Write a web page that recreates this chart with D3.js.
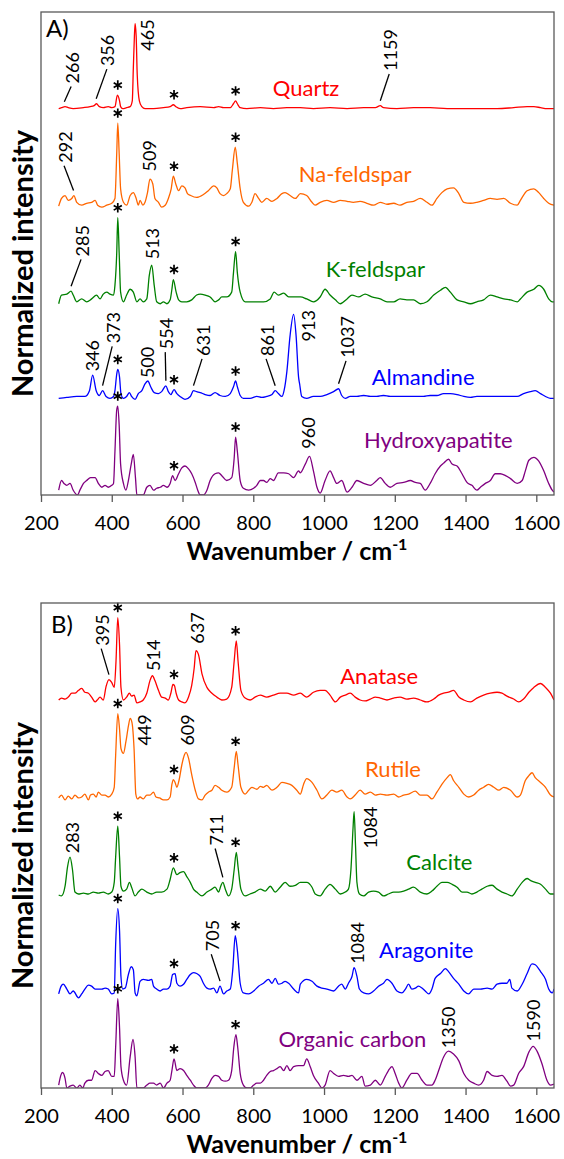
<!DOCTYPE html>
<html>
<head>
<meta charset="utf-8">
<script src="https://cdn.jsdelivr.net/npm/d3@7"></script>
<style>
  body { margin: 0; background: #fff; }
  text { font-family: Lato, "Open Sans", sans-serif; }
</style>
</head>
<body>
<svg id="chart" width="564" height="1159"></svg>
<script>
// ---------- data ----------
var tickValues = [200, 400, 600, 800, 1000, 1200, 1400, 1600];
var colors = ["#ff0000", "#ff6600", "#008000", "#0000ff", "#800080"];
var offsets = [400, 300, 200, 100, 0];          // stacking offset of each trace
var starPeaks = [417, 576, 750];                 // substrate bands marked with *

var namesA = ["Quartz", "Na-feldspar", "K-feldspar", "Almandine", "Hydroxyapatite"];
var namesB = ["Anatase", "Rutile", "Calcite", "Aragonite", "Organic carbon"];

// [wavenumber, intensity above own offset]
var quartz = [[250,0],[258,1],[268,2],[277,1],[291,0],[320,1],[339,2],[350,3],[357,5],[365,2],[376,1],[390,2],[400,1],[409,2],[416,14],[422,8],[425,2],[431,0],[442,1],[452,2],[458,8],[461,42],[464,75],[466,88],[469,75],[472,35],[478,8],[485,2],[494,0],[518,0],[546,1],[565,2],[574,4],[581,2],[593,0],[612,1],[650,2],[688,1],[702,2],[716,1],[735,1],[744,5],[750,8],[755,5],[763,1],[782,0],[820,1],[857,0],[895,1],[933,1],[970,0],[1017,1],[1065,0],[1112,1],[1145,1],[1159,3],[1168,1],[1206,0],[1253,1],[1300,1],[1348,0],[1395,0],[1442,0],[1489,0],[1536,1],[1574,2],[1593,2],[1612,1],[1630,0],[1650,0]];

var naFeldspar = [[250,-1],[258,7],[268,10],[277,5],[287,7],[293,10],[301,3],[315,0],[329,2],[343,3],[353,5],[360,0],[372,-2],[386,0],[400,2],[409,7],[414,53],[417,85],[421,53],[425,17],[433,3],[442,0],[452,10],[461,13],[469,7],[475,0],[480,5],[488,0],[494,3],[501,13],[508,27],[516,22],[522,7],[532,3],[541,-2],[551,0],[560,7],[568,17],[574,30],[581,22],[589,15],[598,20],[607,18],[614,12],[623,10],[640,8],[659,11],[673,15],[688,20],[697,18],[706,12],[716,10],[725,12],[735,17],[741,37],[749,60],[755,43],[763,17],[772,3],[787,-1],[796,3],[805,12],[815,7],[824,3],[838,7],[853,4],[867,7],[881,12],[890,13],[904,10],[919,7],[933,12],[951,10],[966,3],[975,0],[989,3],[1008,5],[1027,3],[1046,5],[1065,4],[1083,3],[1102,4],[1121,2],[1140,0],[1159,3],[1178,1],[1197,2],[1215,0],[1234,3],[1253,4],[1272,7],[1291,3],[1305,0],[1319,7],[1333,13],[1348,17],[1366,18],[1381,12],[1395,3],[1414,2],[1432,3],[1451,5],[1470,7],[1489,6],[1508,7],[1527,2],[1546,0],[1555,5],[1574,15],[1593,17],[1607,13],[1621,7],[1635,2],[1650,0]];

var kFeldspar = [[250,-2],[258,7],[273,8],[285,11],[291,7],[301,0],[315,3],[329,0],[343,3],[357,7],[367,3],[376,8],[386,10],[395,8],[405,7],[409,17],[414,50],[417,87],[421,50],[425,10],[433,0],[442,7],[452,13],[461,10],[471,0],[480,3],[489,0],[499,3],[506,27],[513,38],[520,17],[527,0],[537,-2],[546,0],[556,-2],[565,2],[570,13],[574,23],[582,10],[589,2],[598,0],[612,0],[626,2],[640,7],[650,8],[664,7],[678,5],[692,0],[702,2],[711,5],[725,5],[739,10],[744,30],[750,52],[755,30],[763,10],[777,0],[791,0],[810,0],[829,0],[848,3],[859,10],[871,7],[886,9],[900,5],[914,5],[933,5],[951,3],[970,0],[989,5],[1003,13],[1017,7],[1032,2],[1046,-2],[1065,3],[1079,7],[1098,5],[1116,8],[1135,5],[1159,3],[1178,0],[1197,0],[1215,3],[1234,2],[1253,2],[1272,-2],[1291,0],[1310,7],[1329,12],[1343,15],[1357,10],[1376,2],[1395,0],[1414,-2],[1432,0],[1451,2],[1470,7],[1489,5],[1508,3],[1527,2],[1546,0],[1555,3],[1574,10],[1593,13],[1607,17],[1621,13],[1635,3],[1645,0],[1650,0]];

var almandine = [[250,0],[273,1],[301,2],[324,2],[337,8],[346,24],[356,8],[365,3],[374,8],[384,2],[395,0],[405,2],[409,8],[414,25],[417,30],[422,22],[426,5],[433,0],[442,2],[450,6],[456,2],[466,-1],[475,5],[485,8],[494,15],[502,18],[510,12],[520,6],[532,5],[541,7],[553,13],[560,7],[567,4],[576,9],[584,5],[593,2],[607,-1],[622,2],[631,8],[640,7],[650,6],[664,4],[678,3],[692,6],[706,3],[721,2],[735,5],[744,12],[750,18],[755,12],[763,3],[772,0],[791,0],[810,2],[824,1],[838,2],[853,4],[862,8],[871,5],[881,2],[887,8],[895,28],[904,65],[914,87],[921,65],[928,22],[931,15],[937,2],[951,0],[970,2],[989,2],[1008,4],[1027,7],[1041,10],[1050,3],[1060,0],[1074,2],[1093,2],[1112,3],[1131,2],[1149,2],[1168,3],[1187,2],[1206,2],[1225,2],[1244,2],[1263,2],[1281,2],[1300,3],[1319,3],[1338,5],[1357,5],[1376,4],[1395,2],[1414,1],[1432,2],[1451,2],[1470,2],[1489,2],[1508,2],[1527,2],[1546,2],[1564,5],[1583,7],[1597,8],[1612,5],[1626,2],[1640,0],[1650,0]];

var hydroxyapatite = [[250,5],[258,15],[265,12],[273,10],[282,12],[291,5],[303,0],[310,5],[320,12],[329,15],[340,18],[353,18],[362,12],[372,8],[381,10],[390,8],[400,10],[405,12],[409,45],[414,88],[417,92],[421,72],[425,32],[433,12],[440,5],[447,15],[455,32],[461,42],[467,18],[471,0],[480,0],[489,0],[499,8],[508,10],[518,5],[527,7],[537,8],[546,10],[556,8],[565,12],[572,20],[579,15],[589,22],[598,28],[607,30],[617,27],[626,22],[636,13],[643,5],[650,0],[659,0],[669,5],[678,15],[692,22],[702,23],[711,20],[725,15],[739,18],[746,38],[750,60],[755,45],[763,15],[772,7],[787,5],[801,7],[810,10],[820,15],[829,15],[838,13],[848,17],[857,15],[871,23],[886,23],[900,22],[914,18],[928,25],[933,23],[947,32],[959,40],[970,25],[980,8],[989,2],[1003,15],[1017,25],[1027,18],[1036,12],[1050,15],[1065,3],[1079,8],[1093,15],[1112,12],[1131,10],[1149,15],[1159,18],[1173,12],[1187,8],[1206,12],[1225,13],[1244,15],[1258,13],[1272,12],[1286,5],[1300,12],[1314,22],[1329,30],[1338,33],[1352,37],[1362,32],[1376,30],[1390,22],[1404,13],[1418,10],[1432,5],[1442,8],[1456,12],[1470,15],[1484,22],[1498,22],[1513,20],[1527,17],[1546,12],[1560,15],[1569,25],[1579,36],[1593,39],[1607,35],[1621,25],[1635,12],[1645,5],[1650,3]];

var anatase = [[250,0],[258,2],[268,1],[277,3],[287,7],[296,7],[306,10],[315,12],[324,8],[334,7],[343,3],[353,-2],[359,0],[367,3],[376,0],[384,14],[392,21],[400,18],[407,13],[412,40],[417,85],[422,57],[426,13],[433,0],[442,3],[450,7],[456,4],[463,5],[471,-3],[480,-2],[489,0],[499,7],[508,20],[515,25],[522,20],[532,10],[541,3],[551,2],[560,0],[567,7],[573,16],[577,15],[582,7],[589,0],[598,-2],[607,-3],[617,3],[626,15],[633,33],[638,51],[645,47],[655,27],[669,13],[683,7],[697,3],[711,0],[725,1],[739,13],[746,40],[752,61],[757,40],[765,10],[777,2],[791,0],[805,3],[820,5],[838,3],[857,5],[876,7],[895,7],[914,5],[933,7],[951,3],[970,8],[989,10],[1003,10],[1017,5],[1032,-2],[1046,3],[1060,5],[1074,7],[1088,3],[1102,0],[1116,-1],[1131,1],[1145,3],[1159,2],[1178,0],[1197,2],[1215,3],[1234,1],[1253,2],[1272,0],[1291,-2],[1310,1],[1324,5],[1338,7],[1352,8],[1366,10],[1381,3],[1395,0],[1414,-2],[1432,2],[1451,5],[1470,7],[1489,8],[1503,7],[1517,4],[1536,1],[1550,-2],[1564,1],[1579,8],[1593,13],[1612,17],[1626,13],[1640,7],[1650,0]];

var rutile = [[250,-1],[258,2],[268,-3],[277,1],[287,-2],[296,2],[306,-1],[315,0],[324,3],[334,-3],[340,2],[348,3],[356,0],[362,5],[372,2],[381,2],[390,0],[400,3],[407,10],[411,43],[417,86],[422,70],[426,50],[433,45],[440,57],[447,73],[452,81],[457,77],[463,50],[468,3],[473,-2],[480,0],[489,-2],[499,2],[508,2],[518,5],[525,0],[535,-1],[546,-3],[556,-3],[565,0],[570,13],[574,18],[579,15],[584,10],[590,17],[598,33],[605,43],[610,46],[617,40],[626,23],[636,7],[645,-2],[655,-3],[664,2],[673,5],[683,7],[692,12],[702,10],[711,7],[725,5],[739,10],[746,30],[752,47],[757,33],[765,10],[777,3],[787,7],[796,10],[810,8],[820,11],[829,10],[838,12],[853,7],[867,10],[881,15],[895,14],[909,12],[923,7],[933,3],[942,13],[951,19],[966,15],[980,7],[994,-2],[1008,2],[1022,7],[1036,5],[1050,7],[1065,0],[1074,-2],[1088,2],[1102,7],[1116,3],[1131,5],[1145,2],[1159,3],[1178,2],[1197,3],[1211,0],[1225,2],[1239,3],[1258,6],[1272,2],[1291,2],[1305,-2],[1319,5],[1333,13],[1348,20],[1357,23],[1366,17],[1381,10],[1395,3],[1409,0],[1423,2],[1437,7],[1451,10],[1465,13],[1480,10],[1494,7],[1508,10],[1527,7],[1546,0],[1555,2],[1569,17],[1579,22],[1588,25],[1597,20],[1612,15],[1626,10],[1640,2],[1650,0]];

var calcite = [[250,-1],[258,-2],[268,8],[275,28],[282,38],[289,25],[296,2],[306,0],[320,1],[334,0],[348,2],[362,1],[376,2],[390,0],[400,2],[407,12],[411,38],[417,70],[422,38],[426,8],[433,3],[442,5],[450,12],[456,7],[466,-2],[475,2],[485,5],[499,2],[513,0],[527,2],[541,2],[556,5],[565,15],[574,27],[584,20],[593,22],[603,23],[612,18],[622,12],[631,5],[640,2],[655,-2],[669,2],[683,5],[692,7],[702,2],[708,8],[714,12],[721,5],[730,-2],[739,5],[746,25],[752,43],[757,28],[765,5],[777,-2],[791,0],[805,2],[820,5],[834,3],[848,8],[862,2],[876,7],[890,12],[904,8],[919,9],[933,12],[951,12],[966,7],[975,0],[989,-2],[1003,5],[1017,10],[1032,5],[1046,0],[1060,2],[1069,5],[1076,25],[1082,68],[1085,85],[1089,50],[1093,12],[1100,0],[1112,-2],[1126,2],[1140,3],[1154,2],[1168,-2],[1182,0],[1197,2],[1211,2],[1225,3],[1239,5],[1253,7],[1272,2],[1291,0],[1305,3],[1319,8],[1333,12],[1348,12],[1362,10],[1376,7],[1390,2],[1404,2],[1418,0],[1432,2],[1446,5],[1461,8],[1475,9],[1489,5],[1503,2],[1517,0],[1531,-2],[1546,5],[1560,12],[1574,16],[1583,14],[1597,12],[1612,10],[1626,5],[1640,0],[1650,0]];

var aragonite = [[250,-3],[257,5],[263,7],[273,2],[282,-3],[291,0],[306,-7],[315,-3],[324,2],[334,6],[343,5],[353,2],[362,2],[372,2],[381,3],[390,2],[400,-3],[407,-2],[411,48],[417,85],[422,62],[426,15],[431,2],[438,3],[447,17],[455,25],[461,22],[466,-2],[471,-5],[480,10],[489,12],[504,11],[513,12],[518,5],[527,2],[537,0],[546,2],[556,2],[565,5],[572,17],[579,18],[584,8],[593,5],[603,7],[612,12],[622,17],[631,19],[640,18],[650,15],[659,8],[669,3],[678,2],[688,3],[697,-2],[706,5],[716,-3],[725,0],[735,2],[742,22],[749,57],[755,42],[763,8],[772,-2],[787,-3],[801,0],[815,5],[829,8],[843,12],[853,8],[862,13],[871,7],[881,8],[890,10],[900,8],[914,2],[928,-2],[933,7],[951,12],[966,10],[980,5],[994,3],[1008,2],[1027,0],[1041,5],[1050,7],[1060,2],[1069,8],[1079,15],[1085,24],[1093,15],[1100,2],[1112,-2],[1126,-3],[1140,0],[1154,5],[1168,8],[1178,12],[1192,8],[1206,0],[1220,-2],[1230,2],[1239,7],[1248,2],[1258,3],[1267,5],[1277,3],[1286,0],[1296,-3],[1305,2],[1314,13],[1329,18],[1343,23],[1352,20],[1366,13],[1381,7],[1395,0],[1409,-3],[1423,2],[1442,2],[1461,3],[1475,2],[1489,7],[1503,8],[1517,8],[1525,12],[1531,3],[1546,0],[1560,7],[1574,18],[1588,28],[1597,27],[1612,20],[1626,12],[1635,2],[1645,-2],[1650,2]];

var organicCarbon = [[250,3],[256,13],[261,16],[268,10],[273,0],[282,2],[291,3],[301,0],[310,3],[318,0],[324,5],[334,8],[343,8],[353,18],[362,15],[372,13],[381,17],[390,18],[400,12],[407,12],[411,42],[417,92],[422,62],[426,22],[433,8],[442,3],[452,32],[460,50],[466,32],[471,0],[480,0],[489,0],[499,3],[508,5],[518,5],[527,3],[537,5],[546,0],[556,5],[565,8],[570,18],[576,30],[584,18],[593,20],[603,18],[612,13],[622,8],[631,3],[640,0],[650,0],[664,0],[673,3],[683,10],[692,13],[702,12],[711,8],[721,7],[730,8],[739,18],[745,42],[751,55],[756,42],[763,15],[772,3],[782,0],[791,0],[801,3],[810,5],[820,5],[829,8],[838,13],[848,17],[857,18],[867,20],[876,22],[886,18],[895,23],[904,18],[914,22],[928,23],[942,23],[951,30],[961,22],[970,13],[984,5],[994,0],[1003,3],[1017,18],[1027,15],[1041,12],[1055,13],[1069,12],[1079,13],[1093,8],[1107,12],[1116,2],[1131,3],[1145,8],[1159,3],[1173,12],[1182,18],[1192,22],[1201,15],[1211,5],[1220,0],[1234,8],[1248,15],[1263,15],[1277,8],[1291,3],[1305,3],[1314,8],[1324,18],[1338,32],[1352,38],[1366,35],[1381,28],[1395,15],[1409,8],[1423,5],[1437,3],[1451,8],[1461,17],[1475,13],[1489,12],[1503,13],[1517,7],[1527,2],[1536,3],[1550,15],[1564,22],[1579,37],[1591,43],[1602,38],[1616,25],[1630,8],[1640,3],[1650,4]];

var seriesA = [quartz, naFeldspar, kFeldspar, almandine, hydroxyapatite];
var seriesB = [anatase, rutile, calcite, aragonite, organicCarbon];

// band labels: [trace, band position, text, label wavenumber, label level, leader line]
var bandLabelsA = [
  [0, 266, "266", 288, 426, true], [0, 356, "356", 389, 444, true], [0, 465, "465", 500, 460, false],
  [0, 1159, "1159", 1187, 439, true],
  [1, 292, "292", 268, 344, true], [1, 509, "509", 508, 335, false],
  [2, 285, "285", 316, 247, true], [2, 513, "513", 514, 244, false],
  [3, 346, "346", 347, 128, false], [3, 374, "373", 404, 157, true], [3, 500, "500", 500, 121, false],
  [3, 553, "554", 554, 151, true], [3, 631, "631", 658, 144, true], [3, 862, "861", 839, 144, true],
  [3, 913, "913", 955, 159, false], [3, 1041, "1037", 1065, 142, true],
  [4, 960, "960", 955, 48, false]
];
var bandLabelsB = [
  [0, 392, "395", 373, 456, true], [0, 514, "514", 517, 430, false], [0, 637, "637", 641, 458, false],
  [1, 449, "449", 494, 353, false], [1, 609, "609", 613, 353, false],
  [2, 283, "283", 288, 242, false], [2, 714, "711", 695, 250, true], [2, 1084, "1084", 1130, 247, false],
  [3, 706, "705", 684, 141, true], [3, 1084, "1084", 1094, 128, false],
  [4, 1350, "1350", 1351, 41, false], [4, 1590, "1590", 1591, 48, false]
];
// trace name anchors [wavenumber, level]
var nameSpotsA = [[949, 413], [1088, 324], [1145, 226], [1280, 114], [1323, 49]];
var nameSpotsB = [[1156, 417], [1195, 321], [1326, 225], [1289, 134], [1080, 42]];

// ---------- drawing ----------
var svg = d3.select("#chart");
var x = d3.scaleLinear().domain([200, 1650]).range([41, 554]);

function peakValue(s, wn, win) {
  var near = s.filter(function(p) { return Math.abs(p[0] - wn) <= win; });
  if (near.length) return d3.max(near, function(p) { return p[1]; });
  var i = d3.bisector(function(p) { return p[0]; }).left(s, wn);
  var a = s[Math.max(0, i - 1)], b = s[Math.min(s.length - 1, i)];
  if (a[0] === b[0]) return a[1];
  return a[1] + (b[1] - a[1]) * (wn - a[0]) / (b[0] - a[0]);
}

function drawPanel(top, bottom, tag, tagX, tagY, series, names, nameSpots, bandLabels) {
  var y = d3.scaleLinear().domain([0, 500]).range([bottom, top]);
  var g = svg.append("g");
  var clipId = "clip" + tag.charAt(0);
  svg.append("clipPath").attr("id", clipId).append("rect")
    .attr("x", 41).attr("y", top).attr("width", 513).attr("height", bottom - top);

  var line = d3.line()
    .x(function(d) { return x(d[0]); })
    .curve(d3.curveMonotoneX);

  series.forEach(function(s, i) {
    line.y(function(d) { return y(offsets[i] + d[1]); });
    g.append("path")
      .datum(s)
      .attr("clip-path", "url(#" + clipId + ")")
      .attr("fill", "none")
      .attr("stroke", colors[i])
      .attr("stroke-width", 1.3)
      .attr("stroke-linejoin", "round")
      .attr("d", line);

    g.append("text")
      .attr("x", x(nameSpots[i][0]))
      .attr("y", y(nameSpots[i][1]))
      .attr("text-anchor", "middle")
      .attr("font-size", 22)
      .attr("fill", colors[i])
      .text(names[i]);

    starPeaks.forEach(function(wn) {
      var v = peakValue(s, wn, 6);
      g.append("path")
        .attr("transform", "translate(" + x(wn) + "," + (y(offsets[i] + v) - 10) + ")")
        .attr("d", d3.symbol(d3.symbolAsterisk, 62)())
        .attr("fill", "none")
        .attr("stroke", "#000")
        .attr("stroke-width", 1.7);
    });
  });

  bandLabels.forEach(function(b) {
    var lx = x(b[3]), ly = y(b[4]);
    if (b[5]) {
      var v = peakValue(series[b[0]], b[1], 3);
      g.append("line")
        .attr("x1", x(b[1])).attr("y1", y(offsets[b[0]] + v) - 5)
        .attr("x2", lx - 1).attr("y2", ly + 3)
        .attr("stroke", "#000").attr("stroke-width", 1.3);
    }
    g.append("text")
      .attr("transform", "translate(" + lx + "," + ly + ") rotate(-90)")
      .attr("dy", "0.36em")
      .attr("font-size", 18)
      .attr("fill", "#000")
      .text(b[2]);
  });

  // frame and axis
  g.append("rect")
    .attr("x", 41).attr("y", top).attr("width", 513).attr("height", bottom - top)
    .attr("fill", "none").attr("stroke", "#595959").attr("stroke-width", 1.3);

  var ax = g.append("g")
    .attr("transform", "translate(0," + bottom + ")")
    .call(d3.axisBottom(x).tickValues(tickValues).tickFormat(d3.format("d"))
      .tickSize(7).tickSizeOuter(0).tickPadding(14));
  ax.select(".domain").remove();
  ax.selectAll(".tick line").attr("stroke", "#595959").attr("stroke-width", 1.3);
  ax.selectAll(".tick text").attr("font-size", 20).attr("fill", "#000")
    .attr("font-family", "Lato, 'Open Sans', sans-serif");

  g.append("text").attr("x", tagX).attr("y", tagY).attr("font-size", 24).attr("fill", "#000").text(tag);

  g.append("text")
    .attr("transform", "translate(33," + ((top + bottom) / 2 + 10) + ") rotate(-90)")
    .attr("text-anchor", "middle")
    .attr("font-size", 29)
    .attr("font-weight", "bold")
    .attr("fill", "#000")
    .text("Normalized intensity");

  var xt = g.append("text")
    .attr("x", 297).attr("y", bottom + 65)
    .attr("text-anchor", "middle")
    .attr("font-size", 25)
    .attr("font-weight", "bold")
    .attr("fill", "#000");
  xt.append("tspan").text("Wavenumber / cm");
  xt.append("tspan").attr("dy", -10).attr("font-size", 16).text("-1");
}

drawPanel(12, 495, "A)", 46, 37, seriesA, namesA, nameSpotsA, bandLabelsA);
drawPanel(603, 1088, "B)", 51, 633, seriesB, namesB, nameSpotsB, bandLabelsB);
</script>
</body>
</html>
